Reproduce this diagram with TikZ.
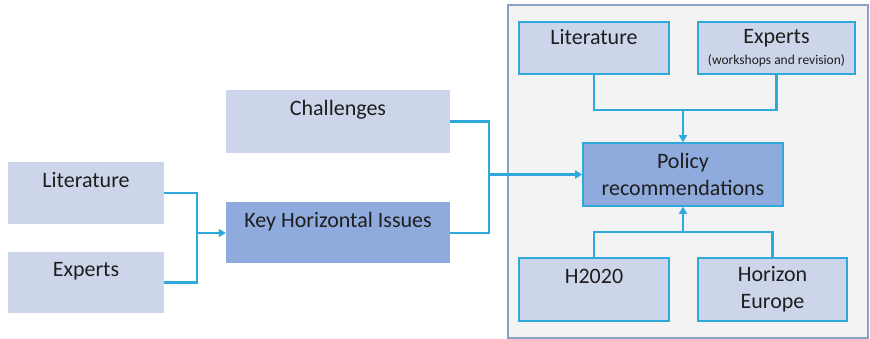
\documentclass[tikz,border=0pt]{standalone}
\usepackage{fontspec}
\setmainfont{Carlito}
\usetikzlibrary{arrows.meta}
\definecolor{boxLight}{HTML}{CDD5EA}
\definecolor{boxDark}{HTML}{8FAADC}
\definecolor{linkBlue}{HTML}{2FA8DB}
\definecolor{panelGray}{HTML}{F3F3F3}
\definecolor{panelEdge}{HTML}{8C9FC5}
\definecolor{textDark}{HTML}{1E1E1E}
\tikzset{every edge/.style={draw,linkBlue,line width=2.2pt},
	flow/.style={draw=linkBlue,line width=2.2pt},
	flowArrow/.style={flow,-{Triangle[length=7pt,width=8pt]}}}
\tikzstyle{lightBox}=[rectangle,fill=boxLight,inner sep=0pt,text=textDark]
\tikzstyle{darkBox}=[rectangle,fill=boxDark,inner sep=0pt,text=textDark]
\tikzstyle{edgeBox}=[draw=linkBlue,line width=1.6pt]
\tikzstyle{topText}=[text height=25pt,text depth=36pt]

\begin{document}
\begin{tikzpicture}[x=1pt,y=1pt,font=\fontsize{22}{27}\selectfont]
	\useasboundingbox (0,0) rectangle (870,339);
	\draw[fill=panelGray,draw=panelEdge,line width=1.5pt] (508,1) rectangle (868,334);

	\node at ( 86,146) [lightBox,topText,minimum width=156pt,minimum height=62pt] (lit) {Literature};
	\node at ( 86,56.5) [lightBox,topText,minimum width=156pt,minimum height=61pt] (exp) {Experts};
	\node at (338,217.5) [lightBox,topText,minimum width=224pt,minimum height=63pt] (chal) {Challenges};
	\node at (338,106) [darkBox,topText,minimum width=224pt,minimum height=60pt] (khi) {Key Horizontal Issues};

	\node at (594,291) [lightBox,edgeBox,text height=23pt,text depth=29pt,minimum width=150pt,minimum height=52pt] (ilit) {Literature};
	\node at (776.5,291) [lightBox,edgeBox,align=center,minimum width=157pt,minimum height=52pt] (iexp)
		{Experts\\[-6pt]{\fontsize{13.5}{15}\selectfont (workshops and revision)}};
	\node at (683,164.5) [darkBox,edgeBox,align=center,minimum width=200pt,minimum height=63pt] (pol) {Policy\\recommendations};
	\node at (594,49.5) [lightBox,edgeBox,topText,minimum width=150pt,minimum height=63pt] (h2020) {H2020};
	\node at (772.5,49.5) [lightBox,edgeBox,align=center,minimum width=149pt,minimum height=63pt] (hor) {Horizon\\Europe};

	\coordinate (jl) at (197,106);
	\coordinate (jm) at (489,164.5);
	\coordinate (jt) at (683,229);
	\coordinate (jb) at (683,107);

	\draw [flow] (lit.east) -| (jl) |- (exp.east);
	\draw [flowArrow] (jl) -- (khi.west);
	\draw [flow] (chal.east) -| (jm) |- (khi.east);
	\draw [flowArrow] (jm) -- (pol.west);
	\draw [flow] (ilit.south) |- (jt) -| (iexp.south);
	\draw [flowArrow] (jt) -- (pol.north);
	\draw [flow] (h2020.north) |- (jb) -| (hor.north);
	\draw [flowArrow] (jb) -- (pol.south);
\end{tikzpicture}
\end{document}
